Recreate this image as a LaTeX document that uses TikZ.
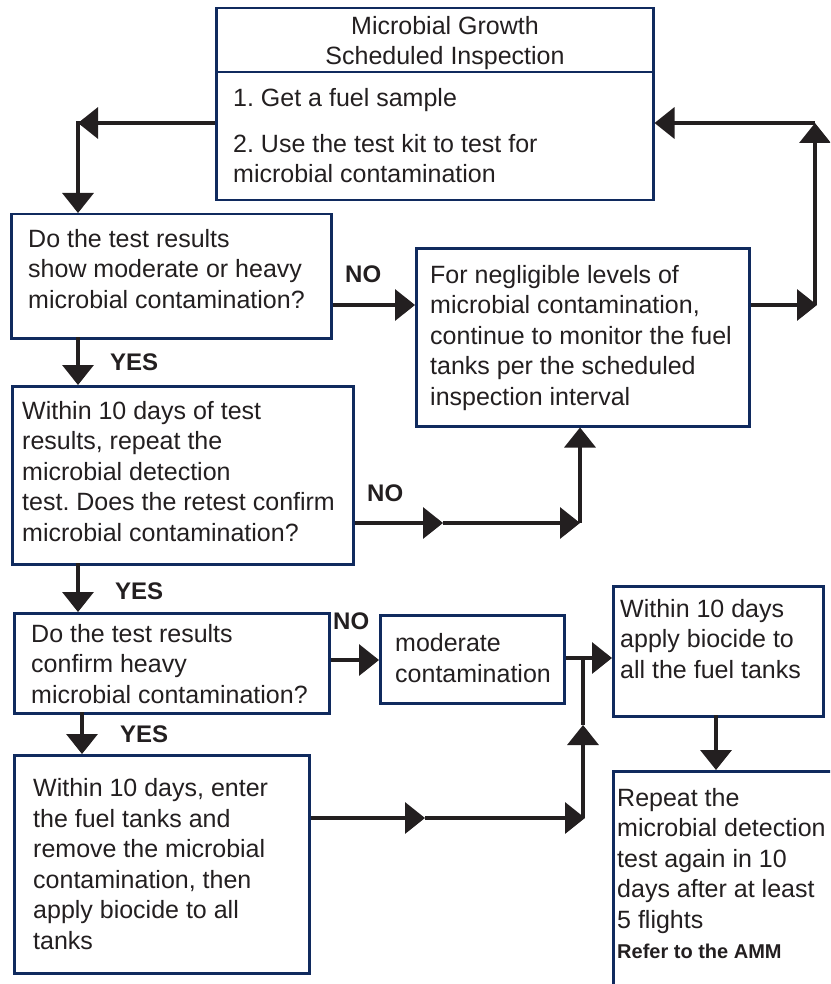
\documentclass[tikz,border=0pt]{standalone}
\usepackage{fontspec}
\setmainfont{Liberation Sans}
\usetikzlibrary{arrows.meta}
\definecolor{boxc}{RGB}{16,42,94}
\definecolor{ink}{RGB}{35,31,32}
\frenchspacing
\begin{document}
\begin{tikzpicture}[x=1pt,y=-1pt,
  box/.style={draw=boxc, line width=2.5pt, fill=white, inner sep=0pt, anchor=north west},
  txt/.style={text=ink, font=\frenchspacing\fontsize{25}{30.5}\selectfont, inner sep=0pt, align=left, anchor=base west},
  lbl/.style={text=ink, font=\bfseries\fontsize{24}{28}\selectfont, inner sep=0pt, anchor=base west},
  arr/.style={draw=ink, line width=3.5pt, -{Triangle[length=20pt,width=31pt]}},
  ln/.style={draw=ink, line width=3.5pt}]
\useasboundingbox (0,0) rectangle (830,984);
\clip (0,0) rectangle (830,984);

% boxes
\node[box, minimum width=437pt, minimum height=64pt] (tophead) at (215,7) {};
\node[box, minimum width=437pt, minimum height=128pt] (topbody) at (215,71) {};
\node[box, minimum width=320pt, minimum height=124pt] (b2) at (10,213) {};
\node[box, minimum width=333pt, minimum height=178pt] (b3) at (415,247) {};
\node[box, minimum width=341pt, minimum height=178pt] (b4) at (11,385) {};
\node[box, minimum width=315pt, minimum height=100pt] (b5) at (13,612) {};
\node[box, minimum width=184pt, minimum height=88pt] (b6) at (379,614) {};
\node[box, minimum width=210pt, minimum height=130pt] (b7) at (612,585) {};
\node[box, minimum width=295pt, minimum height=218pt] (b8) at (13,754) {};
\node[box, minimum width=260pt, minimum height=260pt] (b9) at (612,770) {};

% texts (anchor = baseline of the last line)
\node[txt, align=center, anchor=base] (headtxt) at (445,65) {Microbial Growth\\Scheduled Inspection};
\node[txt] (bodytxt) at (233,183) {1. Get a fuel sample\\[15pt]2. Use the test kit to test for\\microbial contamination};
\node[txt] (t2) at (28,308) {Do the test results\\show moderate or heavy\\microbial contamination?};
\node[txt] (t3) at (430,405) {For negligible levels of\\microbial contamination,\\continue to monitor the fuel\\tanks per the scheduled\\inspection interval};
\node[txt] (t4) at (22,541) {Within 10 days of test\\results, repeat the\\microbial detection\\test. Does the retest confirm\\microbial contamination?};
\node[txt] (t5) at (31,703) {Do the test results\\confirm heavy\\microbial contamination?};
\node[txt] (t6) at (395,682) {moderate\\contamination};
\node[txt] (t7) at (620,678) {Within 10 days\\apply biocide to\\all the fuel tanks};
\node[txt] (t8) at (33,949) {Within 10 days, enter\\the fuel tanks and\\remove the microbial\\contamination, then\\apply biocide to all\\tanks};
\node[txt] (t9) at (617,928) {Repeat the\\microbial detection\\test again in 10\\days after at least\\5 flights};
\node[txt, font=\bfseries\fontsize{20}{24}\selectfont] (t9b) at (617,958) {Refer to the AMM};

% labels
\node[lbl] (no1) at (345,282) {NO};
\node[lbl] (yes1) at (110,370) {YES};
\node[lbl] (no2) at (367,501) {NO};
\node[lbl] (yes2) at (115,599) {YES};
\node[lbl] (no3) at (333,629) {NO};
\node[lbl] (yes3) at (120,742) {YES};

% connector coordinates
\coordinate (c1) at (78,123);
\coordinate (c2) at (817,305);
\coordinate (c3) at (815,123);
\coordinate (m1) at (443,523);
\coordinate (c4) at (580,523);
\coordinate (c5) at (583,658);
\coordinate (m2) at (425,818);
\coordinate (c6) at (585,818);
\coordinate (m3) at (583,725);

% connectors
\draw[arr] (topbody.west |- c1) -- (c1);
\draw[ln] (c1) -- ++(0,-1.5);
\draw[arr] (c1) -- (c1 |- b2.north);
\draw[arr] (78,337) -- (78,385);
\draw[arr] (b2.east |- 0,305) -- (b3.west |- 0,305);
\draw[arr] (b3.east |- c2) -- (c2);
\draw[arr] (c3 |- c2) -- (c3);
\draw[arr] (c3) -- (topbody.east |- c3);
\draw[arr] (b4.east |- m1) -- (m1);
\draw[arr] (m1) -- (c4);
\draw[arr] (c4) -- (c4 |- b3.south);
\draw[arr] (78,563) -- (78,612);
\draw[arr] (b5.east |- 0,660) -- (b6.west |- 0,660);
\draw[arr] (b6.east |- c5) -- (b7.west |- c5);
\draw[arr] (b8.east |- m2) -- (m2);
\draw[arr] (m2) -- (c6);
\draw[arr] (c6 -| m3) -- (m3);
\draw[ln] (m3) -- (c5);
\draw[arr] (82,712) -- (82,754);
\draw[arr] (716,715) -- (716,770);
\end{tikzpicture}
\end{document}
